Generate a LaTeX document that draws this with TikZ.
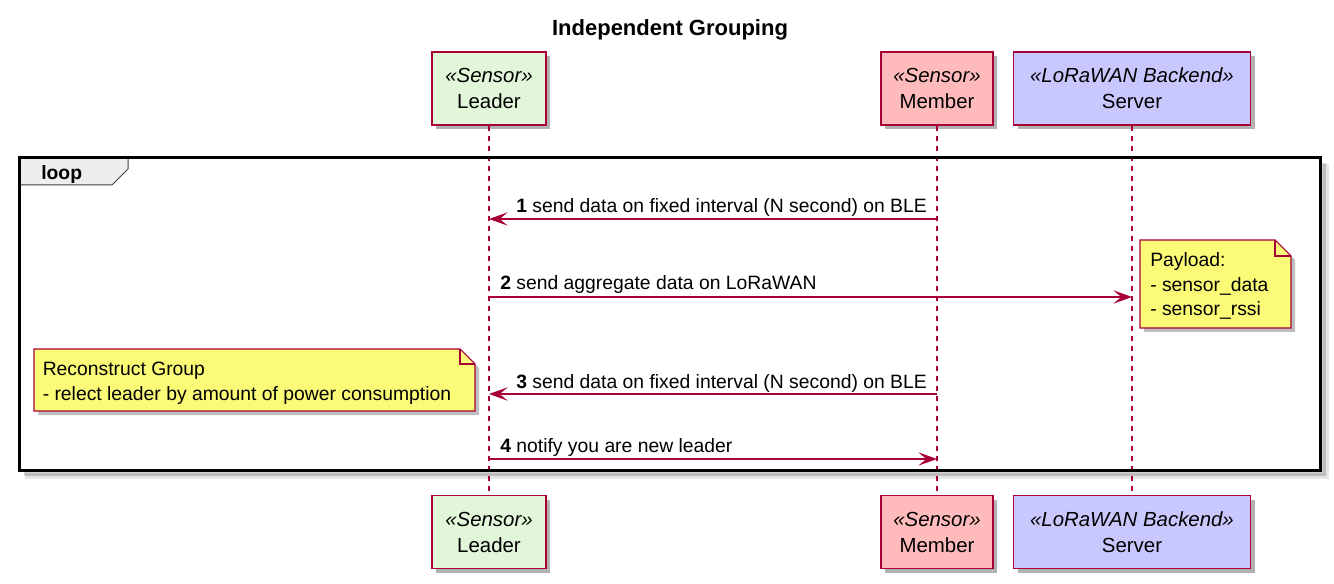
\documentclass[tikz,border=0pt]{standalone}
\usepackage{fontspec}
\setmainfont{Liberation Sans}
\usetikzlibrary{arrows.meta,shadows}
\definecolor{umlred}{HTML}{A80036}
\definecolor{leaderfill}{HTML}{E2F6D9}
\definecolor{memberfill}{HTML}{FFBBBB}
\definecolor{serverfill}{HTML}{C8C8FF}
\definecolor{notefill}{HTML}{FBFB77}
\definecolor{tabfill}{HTML}{EEEEEE}
\tikzset{
  part/.style={draw=umlred, line width=1.3pt, align=center, inner sep=0pt,
    minimum height=54.75pt, font=\fontsize{15.3}{19.5}\selectfont,
    drop shadow={shadow xshift=3pt, shadow yshift=-3pt, opacity=0.3, fill=black}},
  lifeline/.style={draw=umlred, line width=0.9pt, dash pattern=on 3.75pt off 3.75pt},
  msg/.style={draw=umlred, line width=1.1pt, -{Stealth[length=14pt, width=10pt, inset=6pt]}},
  msglabel/.style={anchor=base west, inner sep=0pt, font=\fontsize{14.5}{18}\selectfont},
  notebox/.style={draw=umlred, line width=0.8pt, fill=notefill},
  noteshadow/.style={fill=black, opacity=0.25},
  notetext/.style={anchor=north west, inner sep=0pt, align=left, font=\fontsize{14.5}{18.4}\selectfont},
}
\begin{document}
\begin{tikzpicture}[x=0.75pt,y=-0.75pt]
\useasboundingbox (0,0) rectangle (1334,584);

\node[font=\bfseries\fontsize{16.5}{20}\selectfont] (title) at (670,30) {Independent Grouping};

% participants
\node[part, fill=leaderfill, minimum width=85.5pt] (leaderT) at (489,88.5) {{\itshape «Sensor»}\\Leader};
\node[part, fill=memberfill, minimum width=84pt] (memberT) at (937,88.5) {{\itshape «Sensor»}\\Member};
\node[part, fill=serverfill, minimum width=177.75pt] (serverT) at (1132,88.5) {{\itshape «LoRaWAN Backend»}\\Server};
\node[part, fill=leaderfill, minimum width=85.5pt] (leaderB) at (489,532) {{\itshape «Sensor»}\\Leader};
\node[part, fill=memberfill, minimum width=84pt] (memberB) at (937,532) {{\itshape «Sensor»}\\Member};
\node[part, fill=serverfill, minimum width=177.75pt] (serverB) at (1132,532) {{\itshape «LoRaWAN Backend»}\\Server};

% loop frame shadow
\draw[black, opacity=0.18, line width=3pt] (24,474) -- (1324,474) -- (1324,163);
\draw[black, opacity=0.10, line width=5pt] (25,476) -- (1326,476) -- (1326,164);

% lifelines
\draw[lifeline] (leaderT.south) -- (leaderB.north);
\draw[lifeline] (memberT.south) -- (memberB.north);
\draw[lifeline] (serverT.south) -- (serverB.north);

% loop frame
\draw[fill=tabfill, draw=black!75, line width=0.75pt] (19,158) -- (128,158) -- (128,169) -- (112,185) -- (19,185) -- cycle;
\node[draw=black, line width=2.25pt, minimum width=975.75pt, minimum height=234pt, inner sep=0pt] (loop) at (669.5,314) {};
\node[anchor=base west, inner sep=0pt, font=\bfseries\fontsize{14.5}{18}\selectfont] (looplabel) at (41,180) {loop};

% message end points
\coordinate (m1a) at (937,219); \coordinate (m1b) at (489,219);
\coordinate (m2a) at (489,297); \coordinate (m2b) at (1132,297);
\coordinate (m3a) at (937,394); \coordinate (m3b) at (489,394);
\coordinate (m4a) at (489,459); \coordinate (m4b) at (937,459);

\draw[msg] (m1a) -- (m1b);
\node[msglabel] (l1) at (516,213) {\textbf{1} send data on fixed interval (N second) on BLE};
\draw[msg] (m2a) -- (m2b);
\node[msglabel] (l2) at (500,290) {\textbf{2} send aggregate data on LoRaWAN};
\draw[msg] (m3a) -- (m3b);
\node[msglabel] (l3) at (516,388) {\textbf{3} send data on fixed interval (N second) on BLE};
\draw[msg] (m4a) -- (m4b);
\node[msglabel] (l4) at (500,452) {\textbf{4} notify you are new leader};

% note Payload
\fill[noteshadow] (1144,244) -- (1279,244) -- (1295,260) -- (1295,332) -- (1144,332) -- cycle;
\draw[notebox] (1140,240) -- (1275,240) -- (1291,256) -- (1291,328) -- (1140,328) -- cycle;
\draw[draw=umlred, line width=0.8pt] (1275,240) -- (1275,256) -- (1291,256);
\node[notetext] (n1) at (1150,252.5) {Payload:\\- sensor\_data\\- sensor\_rssi};

% note Reconstruct
\fill[noteshadow] (38,353) -- (464,353) -- (479,368) -- (479,415) -- (38,415) -- cycle;
\draw[notebox] (34,349) -- (460,349) -- (475,364) -- (475,411) -- (34,411) -- cycle;
\draw[draw=umlred, line width=0.8pt] (460,349) -- (460,364) -- (475,364);
\node[notetext] (n2) at (42.5,362) {Reconstruct Group\\- relect leader by amount of power consumption};
\end{tikzpicture}
\end{document}
